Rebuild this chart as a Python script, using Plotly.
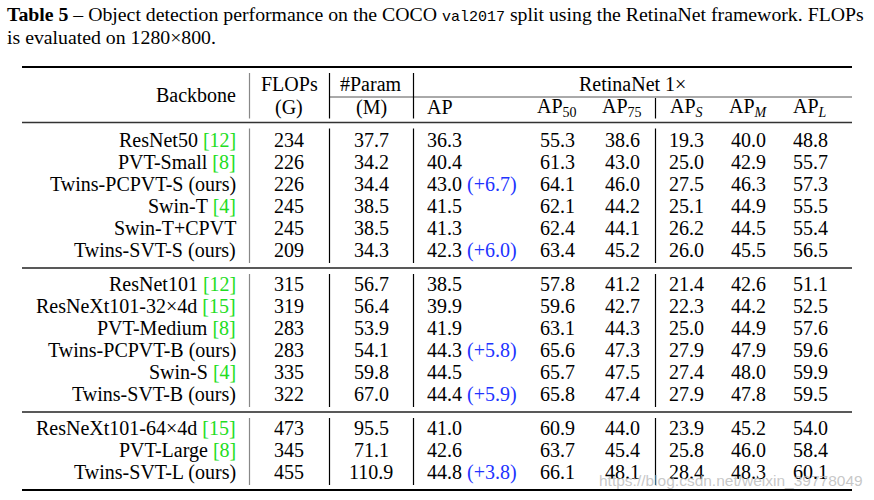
import plotly.graph_objects as go

# ---- table data (COCO val2017, RetinaNet 1x) ----
backbones = [
    "ResNet50", "PVT-Small", "Twins-PCPVT-S (ours)", "Swin-T", "Swin-T+CPVT", "Twins-SVT-S (ours)",
    "ResNet101", "ResNeXt101-32×4d", "PVT-Medium", "Twins-PCPVT-B (ours)", "Swin-S", "Twins-SVT-B (ours)",
    "ResNeXt101-64×4d", "PVT-Large", "Twins-SVT-L (ours)",
]
cites = ["12", "8", None, "4", None, None,
         "12", "15", "8", None, "4", None,
         "15", "8", None]
flops = ["234", "226", "226", "245", "245", "209",
         "315", "319", "283", "283", "335", "322",
         "473", "345", "455"]
params = ["37.7", "34.2", "34.4", "38.5", "38.5", "34.3",
          "56.7", "56.4", "53.9", "54.1", "59.8", "67.0",
          "95.5", "71.1", "110.9"]
ap = ["36.3", "40.4", "43.0", "41.5", "41.3", "42.3",
      "38.5", "39.9", "41.9", "44.3", "44.5", "44.4",
      "41.0", "42.6", "44.8"]
ap_gain = [None, None, "+6.7", None, None, "+6.0",
           None, None, None, "+5.8", None, "+5.9",
           None, None, "+3.8"]
ap50 = ["55.3", "61.3", "64.1", "62.1", "62.4", "63.4",
        "57.8", "59.6", "63.1", "65.6", "65.7", "65.8",
        "60.9", "63.7", "66.1"]
ap75 = ["38.6", "43.0", "46.0", "44.2", "44.1", "45.2",
        "41.2", "42.7", "44.3", "47.3", "47.5", "47.4",
        "44.0", "45.4", "48.1"]
ap_s = ["19.3", "25.0", "27.5", "25.1", "26.2", "26.0",
        "21.4", "22.3", "25.0", "27.9", "27.4", "27.9",
        "23.9", "25.8", "28.4"]
ap_m = ["40.0", "42.9", "46.3", "44.9", "44.5", "45.5",
        "42.6", "44.2", "44.9", "47.9", "48.0", "47.8",
        "45.2", "46.0", "48.3"]
ap_l = ["48.8", "55.7", "57.3", "55.5", "55.4", "56.5",
        "51.1", "52.5", "57.6", "59.6", "59.9", "59.5",
        "54.0", "58.4", "60.1"]
group_sizes = [6, 6, 3]

title_1 = ('<b>Table 5</b> – Object detection performance on the COCO '
           '<span style="font-family:Liberation Mono;font-size:15px">val2017</span> '
           'split using the RetinaNet framework. FLOPs')
title_2 = "is evaluated on 1280×800."
watermark = "https://blog.csdn.net/weixin_39778049"

# ---- layout constants (pixel space) ----
W, H = 874, 500
SERIF = "Liberation Serif"
FS = 20
GREEN = "#22dd22"
BLUE = "#2233ff"
X_LEFT, X_RIGHT = 22, 852
X_BACKBONE = 238
X_FLOPS, X_PARAM, X_AP = 289, 371, 425
X_AP50, X_AP75, X_APS, X_APM, X_APL = 557, 622, 686, 748, 810
V_BACK, V_FLOPS, V_PARAM, V_AP = 249.5, 329.5, 413.5, 655.5
ROW0, ROW_STEP, GROUP_GAP = 140, 22, 12
Y_TOP, Y_HEAD_MID, Y_HEAD = 67, 97, 122.5

fig = go.Figure()
annotations = []
shapes = []


def cell(x, y, text, anchor="center", color="black", size=FS, family=SERIF):
    annotations.append(dict(
        x=x, y=y, xref="x", yref="y", text=text, showarrow=False,
        xanchor=anchor, yanchor="middle",
        font=dict(family=family, size=size, color=color),
    ))


def hline(y, x0=X_LEFT, x1=X_RIGHT, width=1.2, color="black"):
    shapes.append(dict(type="line", xref="x", yref="y", x0=x0, x1=x1, y0=y, y1=y,
                       line=dict(color=color, width=width)))


def vline(x, y0, y1, color="black", width=1.2):
    shapes.append(dict(type="line", xref="x", yref="y", x0=x, x1=x, y0=y0, y1=y1,
                       line=dict(color=color, width=width)))


# caption
cell(5, 14, title_1, anchor="left", size=19.8)
cell(5, 37, title_2, anchor="left", size=19.8)

# header
hline(Y_TOP, width=2.2)
cell(X_BACKBONE, 95, "Backbone", anchor="right")
cell(X_FLOPS, 84, "FLOPs")
cell(X_FLOPS, 107, "(G)")
cell(X_PARAM, 84, "#Param")
cell(X_PARAM, 107, "(M)")
cell((V_PARAM + X_RIGHT) / 2, 84, "RetinaNet 1×")
hline(Y_HEAD_MID, x0=V_FLOPS, width=1, color="#555555")
cell(X_AP, 107, "AP", anchor="left")
cell(X_AP50, 107, "AP<sub>50</sub>")
cell(X_AP75, 107, "AP<sub>75</sub>")
cell(X_APS, 107, "AP<sub><i>S</i></sub>")
cell(X_APM, 107, "AP<sub><i>M</i></sub>")
cell(X_APL, 107, "AP<sub><i>L</i></sub>")
vline(V_BACK, Y_TOP + 6, Y_HEAD - 4, color="#888888")
vline(V_FLOPS, Y_TOP + 6, Y_HEAD - 4)
vline(V_PARAM, Y_TOP + 6, Y_HEAD - 4)
vline(V_AP, Y_HEAD_MID + 1, Y_HEAD - 4)
hline(Y_HEAD, width=1.5, color="#333333")

# body
i = 0
prev_rule = Y_HEAD
for g, n in enumerate(group_sizes):
    y_first = ROW0 + ROW_STEP * i + GROUP_GAP * g
    for k in range(n):
        y = y_first + ROW_STEP * k
        name = backbones[i]
        if cites[i]:
            name += f' <span style="color:{GREEN}">[{cites[i]}]</span>'
        cell(X_BACKBONE, y, name, anchor="right")
        cell(X_FLOPS, y, flops[i])
        cell(X_PARAM, y, params[i])
        txt = ap[i]
        if ap_gain[i]:
            txt += f' <span style="color:{BLUE}">({ap_gain[i]})</span>'
        cell(X_AP, y, txt, anchor="left")
        cell(X_AP50, y, ap50[i])
        cell(X_AP75, y, ap75[i])
        cell(X_APS, y, ap_s[i])
        cell(X_APM, y, ap_m[i])
        cell(X_APL, y, ap_l[i])
        i += 1
    y_last = y_first + ROW_STEP * (n - 1)
    rule = y_last + 18
    last = g == len(group_sizes) - 1
    hline(rule, width=2.2 if last else 1.5, color="black" if last else "#222222")
    vline(V_BACK, prev_rule + 6, rule - 5, color="#888888")
    vline(V_FLOPS, prev_rule + 6, rule - 5)
    vline(V_PARAM, prev_rule + 6, rule - 5)
    vline(V_AP, prev_rule + 6, rule - 5)
    prev_rule = rule

# faint blog watermark in the bottom-right corner
cell(597, 480, watermark, anchor="left",
     color="rgba(185,185,185,0.8)", size=15.5, family="Liberation Sans")

fig.update_layout(
    width=W, height=H,
    margin=dict(l=0, r=0, t=0, b=0),
    paper_bgcolor="white", plot_bgcolor="white",
    xaxis=dict(range=[0, W], visible=False, fixedrange=True),
    yaxis=dict(range=[H, 0], visible=False, fixedrange=True),
    annotations=annotations, shapes=shapes,
    showlegend=False,
)

# page body has a default 8px margin; drop it so the figure fills the window
fig.write_html("out.html", config={"displayModeBar": False},
               post_script="document.body.style.margin='0';")
